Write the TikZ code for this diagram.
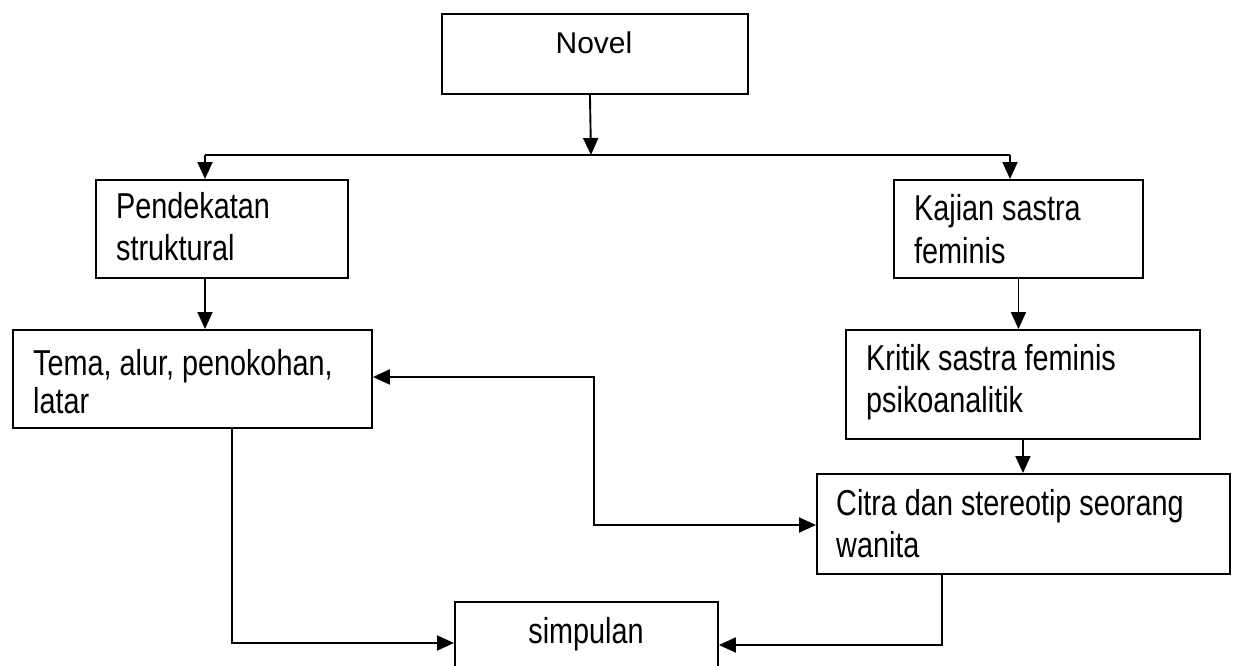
\documentclass[tikz,border=0pt]{standalone}
\usepackage{fontspec}
\setmainfont{Liberation Sans}
\newfontfamily\narrowfont{Liberation Sans}[FakeStretch=0.8]
\usetikzlibrary{arrows.meta}
\begin{document}
\begin{tikzpicture}[x=1pt,y=-1pt,
  box/.style 2 args={draw, line width=1.9pt, rectangle, inner sep=0pt, anchor=north west, minimum width=#1, minimum height=#2},
  txt/.style={anchor=base west, inner sep=0pt, font=\narrowfont\fontsize{36}{42}\selectfont},
  ctxt/.style={anchor=base, inner sep=0pt, font=\narrowfont\fontsize{36}{42}\selectfont},
  conn/.style={line width=1.9pt},
  tip/.tip={Triangle[width=15pt,length=17pt]},
  arr/.style={conn,-tip}]
\clip (0,0) rectangle (1234,666);
\useasboundingbox (0,0) rectangle (1234,666);
% boxes
\node[box={306}{80}] (novel) at (441,13) {};
\node[anchor=base, inner sep=0pt, font=\fontsize{30}{36}\selectfont] (novelt) at (594,54) {Novel};
\node[box={252}{98}] (pend) at (95,179) {};
\node[txt] (pend1) at (116,218) {Pendekatan};
\node[txt] (pend2) at (116,260) {struktural};
\node[box={359}{98}] (tema) at (12,329) {};
\node[txt] (tema1) at (33,375) {Tema, alur, penokohan,};
\node[txt] (tema2) at (33,413) {latar};
\node[box={249}{98}] (kaj) at (893,179) {};
\node[txt] (kaj1) at (914,220) {Kajian sastra};
\node[txt] (kaj2) at (914,263) {feminis};
\node[box={354}{109}] (krit) at (845,329) {};
\node[txt] (krit1) at (866,370) {Kritik sastra feminis};
\node[txt] (krit2) at (866,412) {psikoanalitik};
\node[box={413}{100}] (citra) at (816,473) {};
\node[txt] (citra1) at (836,515) {Citra dan stereotip seorang};
\node[txt] (citra2) at (836,557) {wanita};
\node[box={263}{90}] (simp) at (454,601) {};
\node[ctxt] (simpt) at (586,643) {simpulan};
% connectors
\coordinate (split) at (591,155);
\coordinate (lft) at (205,155);
\coordinate (rgt) at (1010,155);
\draw[arr] ([xshift=-5pt]novel.south) -- (split);
\draw[conn] (lft) -- (rgt);
\draw[arr] (lft) -- (lft |- pend.north);
\draw[arr] (rgt) -- (rgt |- kaj.north);
\draw[arr] (lft |- pend.south) -- (lft |- tema.north);
\draw[arr] (kaj.south) -- (kaj.south |- krit.north);
\draw[arr] (krit.south) -- (krit.south |- citra.north);
\coordinate (mid) at (594,377);
\coordinate (midb) at (594,525);
\draw[conn,tip-tip] (tema.east |- mid) -- (mid) -- (midb) -- (citra.west |- midb);
\coordinate (tb) at (232,643);
\draw[arr] (tema.south -| tb) -- (tb) -- (tb -| simp.west);
\coordinate (cb) at (942,645);
\draw[arr] (citra.south -| cb) -- (cb) -- (cb -| simp.east);
\end{tikzpicture}
\end{document}
